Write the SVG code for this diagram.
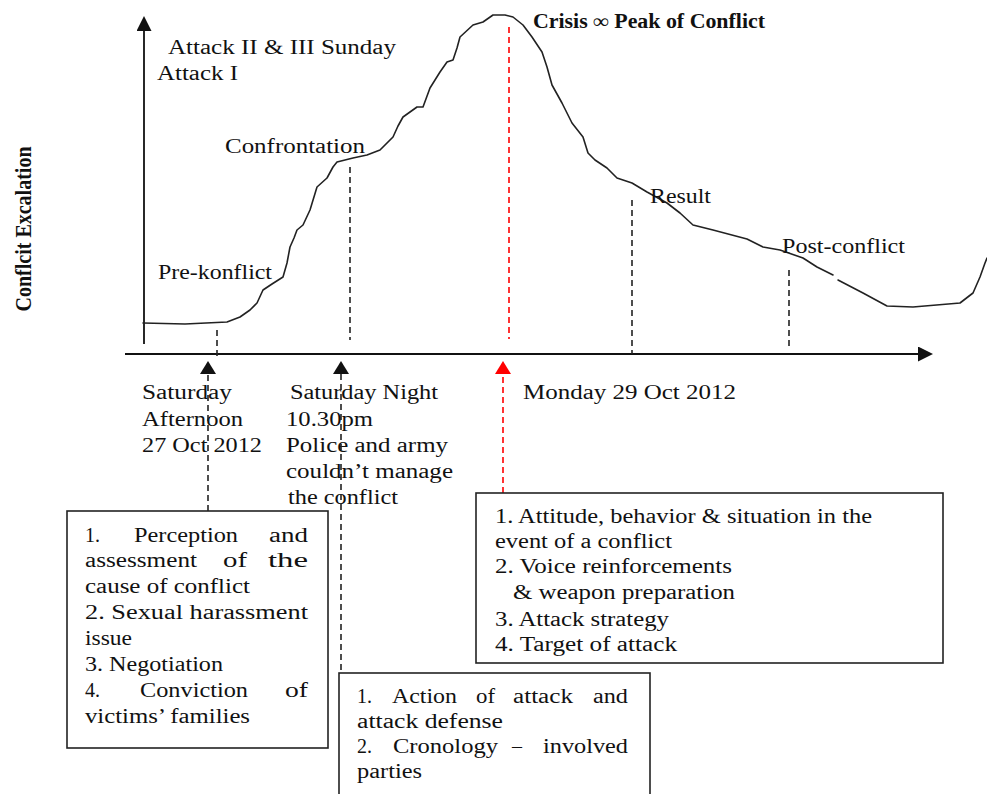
<svg xmlns="http://www.w3.org/2000/svg" width="987" height="794" viewBox="0 0 987 794">
<style>
.t{font-family:"Liberation Serif","Times New Roman",serif;font-size:20px;fill:#111;}
.b{font-weight:bold;}
.box{fill:#fff;stroke:#222;stroke-width:1.6;}
.axis{stroke:#111;stroke-width:1.8;fill:none;}
.dash{stroke:#222;stroke-width:1.6;stroke-dasharray:6,4;fill:none;}
.rdash{stroke:#f00;stroke-width:1.6;stroke-dasharray:6,4;fill:none;}
.curve{stroke:#222;stroke-width:1.6;fill:none;stroke-linejoin:round;stroke-linecap:round;}
</style>
<defs>
<marker id="ah" markerUnits="userSpaceOnUse" markerWidth="15" markerHeight="15" refX="0" refY="7.5" orient="auto"><path d="M0,0 L15,7.5 L0,15 z" fill="#111"/></marker>
<marker id="ahs" markerUnits="userSpaceOnUse" markerWidth="14" markerHeight="16" refX="0" refY="8" orient="auto"><path d="M0,0 L13,8 L0,16 z" fill="#111"/></marker>
<marker id="ahr" markerUnits="userSpaceOnUse" markerWidth="14" markerHeight="16" refX="0" refY="8" orient="auto"><path d="M0,0 L13,8 L0,16 z" fill="#f00"/></marker>
</defs>
<rect width="987" height="794" fill="#fff"/>

<g id="axes">
<line class="axis" x1="144" y1="344" x2="144" y2="31" marker-end="url(#ah)"/>
<line class="axis" x1="125" y1="354" x2="918" y2="354" marker-end="url(#ah)"/>
<text class="t b" transform="translate(31,229) rotate(-90) scale(1,1.2)" text-anchor="middle" textLength="165" lengthAdjust="spacingAndGlyphs">Conflcit Excalation</text>
</g>

<g id="curve">
<path class="curve" d="M143,323 L185,324 L227,322 L240,317 L250,310 L257,303 L263,290 L272,284 L283,277 L287,263 L290,247 L294,238 L297,230 L303,225 L310,210 L317,187 L327,178 L333,167 L337,162 L353,158 L367,155 L380,150 L393,137 L398,126 L403,117 L417,107 L423,107 L430,88 L440,72 L447,62 L453,60 L457,48 L460,37 L473,25 L483,22 L493,15 L505,15 L513,17 L523,25 L532,37 L542,52 L547,67 L552,85 L562,103 L572,123 L583,137 L588,153 L595,160 L607,168 L617,178 L632,183 L647,192 L667,203 L680,213 L693,225 L713,230 L747,239 L763,247 L780,250 L803,258 L817,267 L833,275 M838,280 L863,293 L887,306 L913,307 L960,303 L973,293 L980,277 L985,263 L987,258"/>
</g>

<g id="labels-top">
<text class="t" x="168" y="54" textLength="228" lengthAdjust="spacingAndGlyphs">Attack II &amp; III Sunday</text>
<text class="t" x="157" y="80" textLength="81" lengthAdjust="spacingAndGlyphs">Attack I</text>
<text class="t" x="225" y="153" textLength="140" lengthAdjust="spacingAndGlyphs">Confrontation</text>
<text class="t" x="158" y="279" textLength="114" lengthAdjust="spacingAndGlyphs">Pre-konflict</text>
<text class="t b" x="533" y="28" textLength="232" lengthAdjust="spacingAndGlyphs">Crisis ∞ Peak of Conflict</text>
<text class="t" x="650" y="203" textLength="61" lengthAdjust="spacingAndGlyphs">Result</text>
<text class="t" x="782" y="253" textLength="123" lengthAdjust="spacingAndGlyphs">Post-conflict</text>
</g>

<g id="labels-time">
<text class="t" x="142" y="399" textLength="90" lengthAdjust="spacingAndGlyphs">Saturday</text>
<text class="t" x="142" y="426" textLength="101" lengthAdjust="spacingAndGlyphs">Afternoon</text>
<text class="t" x="142" y="452" textLength="120" lengthAdjust="spacingAndGlyphs">27 Oct 2012</text>
<text class="t" x="290" y="399" textLength="148" lengthAdjust="spacingAndGlyphs">Saturday Night</text>
<text class="t" x="286" y="426" textLength="87" lengthAdjust="spacingAndGlyphs">10.30pm</text>
<text class="t" x="286" y="452" textLength="162" lengthAdjust="spacingAndGlyphs">Police  and army</text>
<text class="t" x="286" y="478" textLength="167" lengthAdjust="spacingAndGlyphs">couldn’t manage</text>
<text class="t" x="288" y="504" textLength="110" lengthAdjust="spacingAndGlyphs">the conflict</text>
<text class="t" x="523" y="399" textLength="213" lengthAdjust="spacingAndGlyphs">Monday 29 Oct 2012</text>
</g>

<g id="connectors">
<line class="dash" x1="217" y1="330" x2="217" y2="360"/>
<line class="dash" x1="350" y1="167" x2="350" y2="340"/>
<line class="rdash" x1="509" y1="27" x2="509" y2="339"/>
<line class="dash" x1="632" y1="200" x2="632" y2="354"/>
<line class="dash" x1="789" y1="270" x2="789" y2="350"/>
<line class="dash" x1="208" y1="511" x2="208" y2="374" marker-end="url(#ahs)"/>
<line class="dash" x1="341" y1="670" x2="341" y2="374" marker-end="url(#ahs)"/>
<line class="rdash" x1="503" y1="493" x2="503" y2="374" marker-end="url(#ahr)"/>
</g>

<g id="box1">
<rect class="box" x="67" y="511" width="261" height="237"/>
<text class="t" x="85" y="542">1.</text>
<text class="t" x="134" y="542" textLength="104" lengthAdjust="spacingAndGlyphs">Perception</text>
<text class="t" x="269" y="542" textLength="39" lengthAdjust="spacingAndGlyphs">and</text>
<text class="t" x="85" y="567" textLength="112" lengthAdjust="spacingAndGlyphs">assessment</text>
<text class="t" x="223" y="567" textLength="24" lengthAdjust="spacingAndGlyphs">of</text>
<text class="t" x="268" y="567" textLength="40" lengthAdjust="spacingAndGlyphs">the</text>
<text class="t" x="85" y="593" textLength="165" lengthAdjust="spacingAndGlyphs">cause of conflict</text>
<text class="t" x="85" y="619" textLength="223" lengthAdjust="spacingAndGlyphs">2. Sexual harassment</text>
<text class="t" x="85" y="645" textLength="47" lengthAdjust="spacingAndGlyphs">issue</text>
<text class="t" x="85" y="671" textLength="138" lengthAdjust="spacingAndGlyphs">3. Negotiation</text>
<text class="t" x="85" y="697">4.</text>
<text class="t" x="140" y="697" textLength="108" lengthAdjust="spacingAndGlyphs">Conviction</text>
<text class="t" x="285" y="697" textLength="23" lengthAdjust="spacingAndGlyphs">of</text>
<text class="t" x="85" y="723" textLength="165" lengthAdjust="spacingAndGlyphs">victims’ families</text>
</g>

<g id="box2">
<rect class="box" x="476" y="493" width="467" height="170"/>
<text class="t" x="495" y="523" textLength="377" lengthAdjust="spacingAndGlyphs">1. Attitude, behavior &amp; situation in the</text>
<text class="t" x="495" y="548" textLength="177" lengthAdjust="spacingAndGlyphs">event of a conflict</text>
<text class="t" x="495" y="573" textLength="237" lengthAdjust="spacingAndGlyphs">2. Voice  reinforcements</text>
<text class="t" x="513" y="599" textLength="222" lengthAdjust="spacingAndGlyphs">&amp; weapon preparation</text>
<text class="t" x="495" y="626" textLength="174" lengthAdjust="spacingAndGlyphs">3. Attack strategy</text>
<text class="t" x="495" y="651" textLength="182" lengthAdjust="spacingAndGlyphs">4. Target of attack</text>
</g>

<g id="box3">
<rect class="box" x="339" y="673" width="311" height="130"/>
<text class="t" x="357" y="703">1.</text>
<text class="t" x="392" y="703" textLength="65" lengthAdjust="spacingAndGlyphs">Action</text>
<text class="t" x="476" y="703" textLength="19" lengthAdjust="spacingAndGlyphs">of</text>
<text class="t" x="513" y="703" textLength="60" lengthAdjust="spacingAndGlyphs">attack</text>
<text class="t" x="593" y="703" textLength="35" lengthAdjust="spacingAndGlyphs">and</text>
<text class="t" x="357" y="728" textLength="146" lengthAdjust="spacingAndGlyphs">attack defense</text>
<text class="t" x="357" y="753">2.</text>
<text class="t" x="393" y="753" textLength="105" lengthAdjust="spacingAndGlyphs">Cronology</text>
<text class="t" x="512" y="753" textLength="10" lengthAdjust="spacingAndGlyphs">–</text>
<text class="t" x="543" y="753" textLength="85" lengthAdjust="spacingAndGlyphs">involved</text>
<text class="t" x="357" y="778" textLength="65" lengthAdjust="spacingAndGlyphs">parties</text>
</g>
</svg>
